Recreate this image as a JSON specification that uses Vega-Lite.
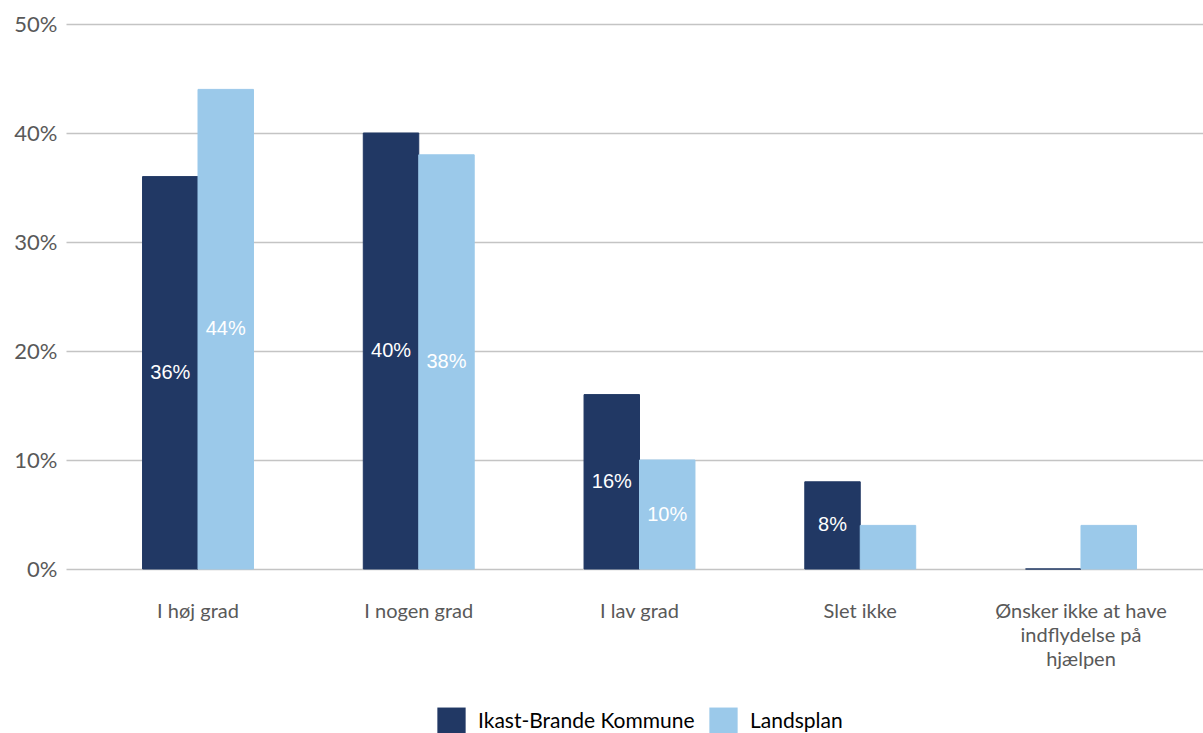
{
  "$schema": "https://vega.github.io/schema/vega-lite/v6.json",
  "autosize": "none",
  "width": 1147,
  "height": 545,
  "padding": {"left": 66, "top": 24, "right": 0, "bottom": 164},
  "background": "white",
  "config": {"view": {"stroke": null}},
  "data": {
    "values": [
      {"kategori": "I høj grad", "gruppe": "Ikast-Brande Kommune", "andel": 0.36},
      {"kategori": "I høj grad", "gruppe": "Landsplan", "andel": 0.44},
      {"kategori": "I nogen grad", "gruppe": "Ikast-Brande Kommune", "andel": 0.40},
      {"kategori": "I nogen grad", "gruppe": "Landsplan", "andel": 0.38},
      {"kategori": "I lav grad", "gruppe": "Ikast-Brande Kommune", "andel": 0.16},
      {"kategori": "I lav grad", "gruppe": "Landsplan", "andel": 0.10},
      {"kategori": "Slet ikke", "gruppe": "Ikast-Brande Kommune", "andel": 0.08},
      {"kategori": "Slet ikke", "gruppe": "Landsplan", "andel": 0.04},
      {"kategori": "Ønsker ikke at have indflydelse på hjælpen", "gruppe": "Ikast-Brande Kommune", "andel": 0.0},
      {"kategori": "Ønsker ikke at have indflydelse på hjælpen", "gruppe": "Landsplan", "andel": 0.04}
    ]
  },
  "encoding": {
    "x": {
      "field": "kategori",
      "type": "nominal",
      "sort": null,
      "scale": {"paddingInner": 0, "paddingOuter": 0.098},
      "axis": {
        "title": null,
        "domain": false,
        "ticks": false,
        "labelAngle": 0,
        "labelFont": "Lato",
        "labelFontSize": 20,
        "labelColor": "#595959",
        "labelPadding": 32,
        "labelLineHeight": 24,
        "labelLimit": 0,
        "labelExpr": "datum.label == 'Ønsker ikke at have indflydelse på hjælpen' ? ['Ønsker ikke at have', 'indflydelse på', 'hjælpen'] : datum.label"
      }
    },
    "xOffset": {
      "field": "gruppe",
      "type": "nominal",
      "sort": null,
      "scale": {"paddingInner": 0, "paddingOuter": 0.99}
    }
  },
  "layer": [
    {
      "mark": {"type": "bar", "strokeWidth": 1},
      "encoding": {
        "y": {
          "field": "andel",
          "type": "quantitative",
          "scale": {"domain": [0, 0.5]},
          "axis": {
            "title": null,
            "format": ".0%",
            "values": [0, 0.1, 0.2, 0.3, 0.4, 0.5],
            "domain": false,
            "ticks": false,
            "grid": true,
            "gridColor": "#c4c4c4",
            "gridWidth": 1.5,
            "labelFont": "Lato",
            "labelFontSize": 22,
            "labelColor": "#595959",
            "labelPadding": 9
          }
        },
        "color": {
          "field": "gruppe",
          "type": "nominal",
          "sort": null,
          "scale": {"domain": ["Ikast-Brande Kommune", "Landsplan"], "range": ["#213864", "#9bc9ea"]},
          "legend": {
            "title": null,
            "orient": "none",
            "legendX": 371,
            "legendY": 683,
            "direction": "horizontal",
            "symbolType": "square",
            "symbolSize": 800,
            "symbolStrokeWidth": 0,
            "symbolOpacity": 1,
            "labelFont": "Lato",
            "labelFontSize": 21,
            "labelColor": "#000000",
            "labelOffset": 12,
            "labelLimit": 0,
            "columnPadding": 14
          }
        },
        "stroke": {
          "field": "gruppe",
          "type": "nominal",
          "sort": null,
          "scale": {"domain": ["Ikast-Brande Kommune", "Landsplan"], "range": ["#213864", "#9bc9ea"]},
          "legend": null
        }
      }
    },
    {
      "transform": [
        {"filter": "datum.andel >= 0.05"},
        {"calculate": "datum.andel / 2", "as": "midt"}
      ],
      "mark": {"type": "text", "color": "white", "font": "Liberation Sans", "fontSize": 20, "baseline": "middle", "align": "center"},
      "encoding": {
        "y": {"field": "midt", "type": "quantitative"},
        "text": {"field": "andel", "type": "quantitative", "format": ".0%"}
      }
    }
  ]
}
